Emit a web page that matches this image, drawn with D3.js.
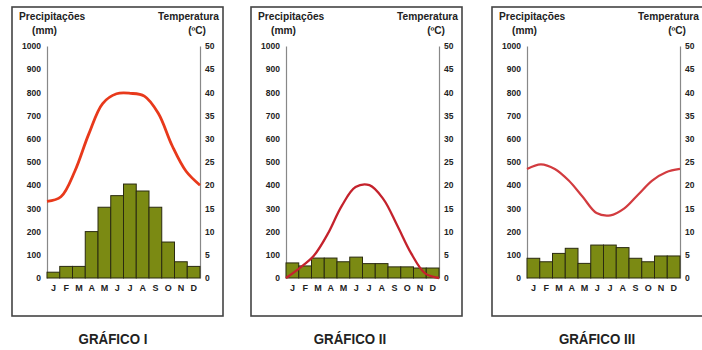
<!DOCTYPE html>
<html><head><meta charset="utf-8">
<script src="https://cdn.jsdelivr.net/npm/d3@7"></script>
<style>
html,body{margin:0;padding:0;background:#fff;}
svg{display:block;}
text{font-family:"Liberation Sans",Arial,sans-serif;font-weight:bold;fill:#222;}
</style></head>
<body>
<svg id="chart" width="702" height="350"></svg>
<script>
const months = ["J","F","M","A","M","J","J","A","S","O","N","D"];
const precipTicks = [0,100,200,300,400,500,600,700,800,900,1000];
const tempTicks = [0,5,10,15,20,25,30,35,40,45,50];
const titles = ["GRÁFICO I","GRÁFICO II","GRÁFICO III"];

const precipI   = [25, 50, 50, 200, 305, 355, 405, 375, 305, 155, 70, 50];
const tempI     = [16.5, 17.5, 23, 31, 37.6, 39.7, 39.8, 39.2, 35.5, 28.5, 23, 20];
const precipII  = [65, 52, 86, 86, 70, 90, 62, 62, 48, 48, 43, 43];
const tempII    = [0, 2.2, 4.8, 9.5, 15.5, 19.6, 20, 17, 11.3, 5.3, 1, 0];
const precipIII = [85, 70, 106, 128, 63, 142, 142, 131, 85, 70, 95, 95];
const tempIII   = [23.5, 24.5, 23.5, 21, 17.5, 14, 13.5, 15, 18, 21, 22.8, 23.5];

const panels = [
  {x0: 12,  precip: precipI,   temp: tempI,   color: "#e8391b", lw: 2.8, title: titles[0], tx: 113},
  {x0: 251, precip: precipII,  temp: tempII,  color: "#c4222c", lw: 2.3, title: titles[1], tx: 350},
  {x0: 492, precip: precipIII, temp: tempIII, color: "#d23b3f", lw: 2.2, title: titles[2], tx: 597}
];

const svg = d3.select("#chart");
const frameW = 211, frameTop = 7, frameBottom = 316;
const axL = 35, axR = 188;
const yTop = 46, yBot = 278;

panels.forEach(p => {
  const g = svg.append("g");
  g.append("rect")
    .attr("x", p.x0).attr("y", frameTop)
    .attr("width", frameW).attr("height", frameBottom - frameTop)
    .attr("fill", "none").attr("stroke", "#444").attr("stroke-width", 1.6);

  const x = d3.scaleBand().domain(d3.range(12)).range([p.x0 + axL, p.x0 + axR]).padding(0);
  const xp = d3.scalePoint().domain(d3.range(12)).range([p.x0 + axL, p.x0 + axR]).padding(0);
  const y = d3.scaleLinear().domain([0, 1000]).range([yBot, yTop]);
  const yT = d3.scaleLinear().domain([0, 50]).range([yBot, yTop]);

  // headers
  g.append("text").attr("x", p.x0 + 7).attr("y", 20).attr("font-size", 10.2).text("Precipitações");
  g.append("text").attr("x", p.x0 + 20).attr("y", 34).attr("font-size", 10.2).text("(mm)");
  g.append("text").attr("x", p.x0 + 207).attr("y", 20).attr("font-size", 10.2).attr("text-anchor", "end").text("Temperatura");
  g.append("text").attr("x", p.x0 + 194).attr("y", 34).attr("font-size", 10.2).attr("text-anchor", "end").text("(ºC)");

  // axes
  const la = g.append("g").attr("transform", `translate(${p.x0 + axL},0)`)
    .call(d3.axisLeft(y).tickValues(precipTicks).tickSize(0).tickPadding(6).tickFormat(d3.format("d")));
  const ra = g.append("g").attr("transform", `translate(${p.x0 + axR},0)`)
    .call(d3.axisRight(yT).tickValues(tempTicks).tickSize(0).tickPadding(5).tickFormat(d3.format("d")));
  [la, ra].forEach(a => {
    a.select(".domain").attr("stroke", "#888").attr("stroke-width", 1.2);
    a.selectAll("text").attr("font-size", 8.5).attr("font-family", "Liberation Sans, Arial, sans-serif")
      .attr("font-weight", "bold").attr("fill", "#222");
  });

  // bars
  g.append("g").selectAll("rect").data(p.precip).join("rect")
    .attr("x", (d, i) => x(i)).attr("y", d => y(d))
    .attr("width", x.bandwidth()).attr("height", d => yBot - y(d))
    .attr("fill", "#7b8a13").attr("stroke", "#2a2a10").attr("stroke-width", 1);

  // month labels
  const ba = g.append("g").attr("transform", `translate(0,${yBot + 3})`)
    .call(d3.axisBottom(x).tickSize(0).tickPadding(4).tickFormat(i => months[i]));
  ba.select(".domain").remove();
  ba.selectAll("text").attr("font-size", 9).attr("font-family", "Liberation Sans, Arial, sans-serif")
    .attr("font-weight", "bold").attr("fill", "#222");

  // temperature line
  const line = d3.line().x((d, i) => xp(i)).y(d => yT(d)).curve(d3.curveCatmullRom.alpha(0.5));
  g.append("path").datum(p.temp).attr("d", line)
    .attr("fill", "none").attr("stroke", p.color).attr("stroke-width", p.lw)
    .attr("stroke-linejoin", "round");

  // title (condensed)
  g.append("text").attr("transform", `translate(${p.tx},344) scale(0.86,1)`).attr("text-anchor", "middle")
    .attr("font-size", 15.5)
    .text(p.title);
});
</script>
</body></html>
